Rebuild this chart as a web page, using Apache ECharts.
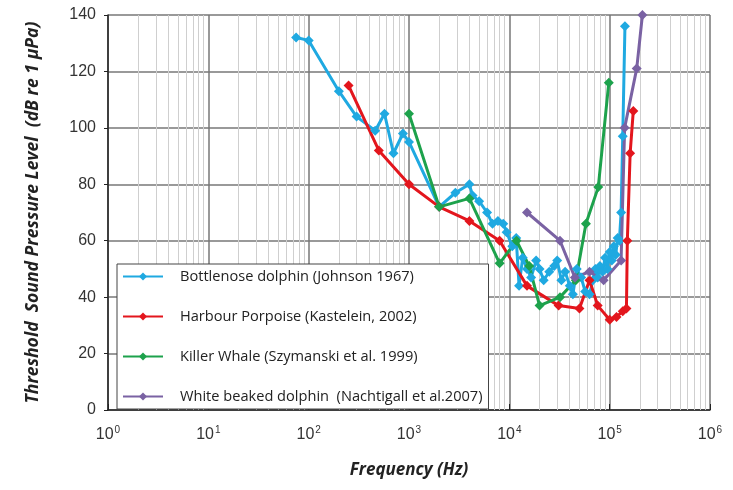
<!DOCTYPE html>
<html>
<head>
<meta charset="utf-8">
<script src="https://cdn.jsdelivr.net/npm/echarts@6/dist/echarts.min.js"></script>
<style>html,body{margin:0;padding:0;background:#fff}#c{width:733px;height:490px}</style>
</head>
<body>
<div id="c"></div>
<script>
var seriesNames = [
  'Bottlenose dolphin (Johnson 1967)',
  'Harbour Porpoise (Kastelein, 2002)',
  'Killer Whale (Szymanski et al. 1999)',
  'White beaked dolphin  (Nachtigall et al.2007)'
];
var seriesColors = ['#1FA9E1', '#E3161D', '#1DA24C', '#7A62A3'];

var bottlenose = [[75,132],[100,131],[200,113],[300,104],[460,99],[570,105],[700,91],[870,98],[1000,95],[2000,72],[2900,77],[4000,80],[4300,76],[5000,74],[6000,70],[6800,66],[7700,67],[8700,66],[9400,63],[10700,58],[11700,61],[12500,44],[13600,54],[15000,50],[16500,47],[18500,53],[20000,50],[22000,46],[25000,49],[28000,51],[30000,53],[33000,46],[36000,49],[40000,44],[43000,41],[47000,50],[52000,47],[57000,42],[63000,41],[68000,46],[72000,50],[76000,47],[80000,51],[85000,49],[90000,54],[95000,50],[100000,56],[105000,53],[110000,58],[115000,55],[120000,61],[125000,60],[130000,70],[135000,97],[142000,136]];
var harbour = [[250,115],[500,92],[1000,80],[2000,72],[4000,67],[8000,60],[15000,44],[31000,37],[50000,36],[63000,46],[76000,37],[100000,32],[117000,33],[135000,35],[147000,36],[150000,60],[160000,91],[172000,106]];
var killer = [[1000,105],[2000,72],[4000,75],[8000,52],[11800,60],[15800,51],[20000,37],[32000,40],[46000,46],[58000,66],[77000,79],[98000,116]];
var whitebeaked = [[15000,70],[32000,60],[45000,47],[63000,49],[87000,46],[130000,53],[141000,100],[186000,121],[212000,140]];

var yTicks = [0,20,40,60,80,100,120,140];
var xDecades = [1,10,100,1000,10000,100000,1000000];
var minorGrid = [];
for (var d = 0; d < 6; d++) { for (var k = 2; k <= 9; k++) { minorGrid.push(k * Math.pow(10, d)); } }

var chart = echarts.init(document.getElementById('c'), null, {renderer: 'canvas'});
var dataSets = [bottlenose, harbour, killer, whitebeaked];
var series = dataSets.map(function (d, i) {
  return {
    name: seriesNames[i], type: 'line', data: d, symbol: 'diamond', symbolSize: 10,
    color: seriesColors[i], lineStyle: {width: 3, color: seriesColors[i]},
    itemStyle: {color: seriesColors[i]}, z: 3, animation: false
  };
});
series.unshift({
  name: 'minor', type: 'line', data: [], z: 1, silent: true, animation: false,
  markLine: {
    silent: true, z: 1, symbol: ['none', 'none'], label: {show: false}, animation: false,
    lineStyle: {color: '#cfcfcf', width: 1, type: 'solid'},
    emphasis: {disabled: true},
    data: minorGrid.map(function (v) { return {xAxis: v}; })
  }
});

chart.setOption({
  backgroundColor: '#fff',
  animation: false,
  grid: {left: 108, right: 23, top: 15, bottom: 80},
  legend: {
    data: seriesNames, orient: 'vertical', left: 117, top: 264, z: 10,
    itemWidth: 40, itemHeight: 10, itemGap: 25,
    padding: [5, 6, 5, 5],
    backgroundColor: '#fff', borderColor: '#444', borderWidth: 1,
    textStyle: {fontFamily: 'Open Sans', fontSize: 14.6, color: '#222', padding: [0, 0, 0, 12]}
  },
  xAxis: {
    type: 'log', logBase: 10, min: 1, max: 1000000,
    name: 'Frequency (Hz)', nameLocation: 'middle', nameGap: 52,
    nameTextStyle: {fontFamily: 'Open Sans', fontStyle: 'italic', fontWeight: 'bold', fontSize: 17, color: '#222'},
    axisLine: {lineStyle: {color: '#222', width: 1.5}},
    axisTick: {inside: true, length: 6, lineStyle: {color: '#222'}},
    splitLine: {show: true, lineStyle: {color: '#777', width: 1.5}},
    axisLabel: {
      margin: 15,
      formatter: function (v) { return '{b|10}{s|' + Math.round(Math.log10(v)) + '}'; },
      rich: {
        b: {fontFamily: "'Liberation Sans Narrow','Liberation Sans'", fontSize: 16, color: '#333'},
        s: {fontFamily: "'Liberation Sans Narrow','Liberation Sans'", fontSize: 10, color: '#333', verticalAlign: 'top', padding: [0, 0, 9, 1]}
      }
    }
  },
  yAxis: {
    type: 'value', min: 0, max: 140, interval: 20,
    name: 'Threshold  Sound Pressure Level  (dB re 1 \u00b5Pa)', nameLocation: 'middle', nameGap: 66,
    nameTextStyle: {fontFamily: 'Open Sans', fontStyle: 'italic', fontWeight: 'bold', fontSize: 17.6, color: '#222'},
    axisLine: {show: true, lineStyle: {color: '#222', width: 1.5}},
    axisTick: {show: true, length: 4, lineStyle: {color: '#222'}},
    splitLine: {show: true, lineStyle: {color: '#777', width: 1.5}},
    axisLabel: {margin: 12, fontFamily: "'Liberation Sans'", fontSize: 16, color: '#333'}
  },
  series: series
});
</script>
</body>
</html>
